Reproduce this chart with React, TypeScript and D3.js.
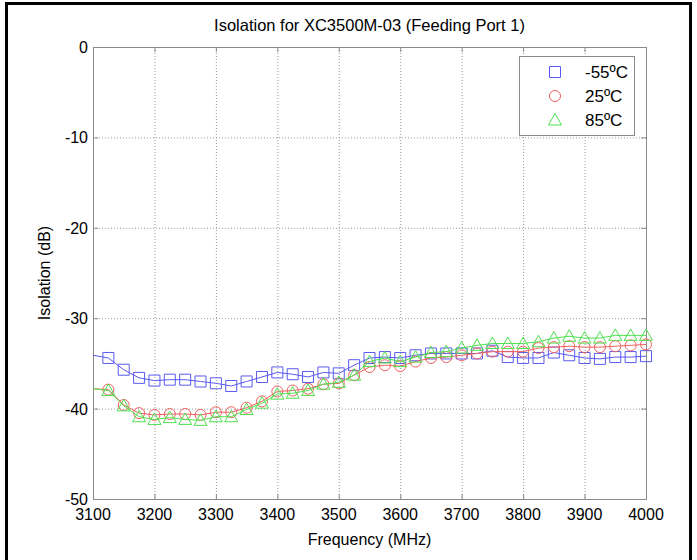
import React, { useRef, useEffect } from "react";
import * as d3 from "d3";

// frequency points (MHz) where markers are drawn
const freqs = d3.range(3125, 4001, 25);

// isolation in dB, one value per marker
const minus55 = [
  -34.4, -35.7, -36.6, -36.9, -36.8, -36.8, -37.0, -37.2, -37.5, -37.0, -36.5, -36.0,
  -36.2, -36.5, -36.0, -36.1, -35.2, -34.4, -34.3, -34.4, -34.1, -33.9, -33.9, -33.9,
  -33.9, -33.6, -34.3, -34.4, -34.4, -33.8, -34.1, -34.4, -34.5, -34.3, -34.3, -34.2,
];
const plus25 = [
  -37.9, -39.6, -40.5, -40.7, -40.6, -40.6, -40.7, -40.4, -40.4, -39.9, -39.2, -38.1,
  -38.0, -37.8, -37.3, -37.2, -36.3, -35.4, -35.2, -35.3, -34.8, -34.4, -34.3, -34.1,
  -33.9, -33.7, -33.7, -33.7, -33.3, -33.2, -33.1, -33.2, -33.2, -33.1, -33.0, -32.9,
];
const plus85 = [
  -38.0, -39.7, -40.9, -41.2, -41.0, -41.2, -41.3, -40.9, -40.9, -40.1, -39.4, -38.4,
  -38.3, -38.0, -37.3, -37.1, -36.3, -34.8, -34.4, -34.8, -34.3, -33.8, -33.7, -33.3,
  -33.0, -32.8, -32.8, -32.8, -32.6, -32.2, -32.0, -32.2, -32.2, -31.9, -31.9, -31.9,
];
// trace values at the band start (line only, no marker)
const startValues = [-34.1, -37.8, -37.8];

const seriesNames = ["-55ºC", "25ºC", "85ºC"];
const seriesColors = ["#5a5af0", "#f06060", "#4fe04f"];
const seriesShapes = ["square", "circle", "triangle"];

const xTicks = d3.range(3100, 4001, 100);
const yTicks = d3.range(-50, 1, 10);

const Chart: React.FC = () => {
  const ref = useRef<SVGSVGElement | null>(null);

  useEffect(() => {
    if (!ref.current) return;
    const svg = d3.select(ref.current);
    svg.selectAll("*").remove();

    const width = 697;
    const height = 560;
    const left = 93;
    const right = 646;
    const top = 47;
    const bottom = 499;
    const font = "Liberation Sans, Arial, sans-serif";
    const fs = 16;

    svg.append("rect").attr("width", width).attr("height", height).attr("fill", "#fff");

    // outer frame
    svg
      .append("path")
      .attr("d", `M6.5,${height + 5} V3.5 H690.5 V${height + 5}`)
      .attr("fill", "none")
      .attr("stroke", "#000")
      .attr("stroke-width", 3);

    const x = d3.scaleLinear().domain([3100, 4000]).range([left, right]);
    const y = d3.scaleLinear().domain([-50, 0]).range([bottom, top]);

    // grid
    const grid = svg.append("g").attr("stroke", "#9a9a9a").attr("stroke-dasharray", "1,2");
    grid
      .selectAll("line.v")
      .data(xTicks.slice(1, -1))
      .join("line")
      .attr("x1", (d) => x(d) + 0.5)
      .attr("x2", (d) => x(d) + 0.5)
      .attr("y1", top)
      .attr("y2", bottom);
    grid
      .selectAll("line.h")
      .data(yTicks.slice(1, -1))
      .join("line")
      .attr("x1", left)
      .attr("x2", right)
      .attr("y1", (d) => y(d) + 0.5)
      .attr("y2", (d) => y(d) + 0.5);

    // axes box with inward ticks
    const axisColor = "#8a8a8a";
    svg
      .append("rect")
      .attr("x", left + 0.5)
      .attr("y", top + 0.5)
      .attr("width", right - left)
      .attr("height", bottom - top)
      .attr("fill", "none")
      .attr("stroke", axisColor);

    const tickG = svg.append("g").attr("stroke", axisColor);
    xTicks.forEach((t) => {
      tickG.append("line").attr("x1", x(t) + 0.5).attr("x2", x(t) + 0.5).attr("y1", bottom).attr("y2", bottom - 5);
      tickG.append("line").attr("x1", x(t) + 0.5).attr("x2", x(t) + 0.5).attr("y1", top).attr("y2", top + 5);
    });
    yTicks.forEach((t) => {
      tickG.append("line").attr("x1", left).attr("x2", left + 5).attr("y1", y(t) + 0.5).attr("y2", y(t) + 0.5);
      tickG.append("line").attr("x1", right).attr("x2", right - 5).attr("y1", y(t) + 0.5).attr("y2", y(t) + 0.5);
    });

    // tick labels
    svg
      .append("g")
      .attr("font-family", font)
      .attr("font-size", fs)
      .attr("text-anchor", "middle")
      .selectAll("text")
      .data(xTicks)
      .join("text")
      .attr("x", (d) => x(d))
      .attr("y", bottom + 21)
      .text((d) => d);
    svg
      .append("g")
      .attr("font-family", font)
      .attr("font-size", fs)
      .attr("text-anchor", "end")
      .selectAll("text")
      .data(yTicks)
      .join("text")
      .attr("x", left - 5)
      .attr("y", (d) => y(d) + 6)
      .text((d) => d);

    // titles
    svg
      .append("text")
      .attr("x", (left + right) / 2)
      .attr("y", 31)
      .attr("text-anchor", "middle")
      .attr("font-family", font)
      .attr("font-size", 16.5)
      .text("Isolation for XC3500M-03 (Feeding Port 1)");
    svg
      .append("text")
      .attr("x", (left + right) / 2)
      .attr("y", 545)
      .attr("text-anchor", "middle")
      .attr("font-family", font)
      .attr("font-size", fs)
      .text("Frequency (MHz)");
    svg
      .append("text")
      .attr("transform", `translate(50,${(top + bottom) / 2}) rotate(-90)`)
      .attr("text-anchor", "middle")
      .attr("font-family", font)
      .attr("font-size", fs)
      .text("Isolation (dB)");

    const symbolPath = (shape: string, cx: number, cy: number) => {
      if (shape === "square") return `M${cx - 5.5},${cy - 5.5}h11v11h-11Z`;
      if (shape === "triangle") return `M${cx},${cy - 6.5}L${cx + 6.5},${cy + 5}L${cx - 6.5},${cy + 5}Z`;
      return `M${cx - 5.5},${cy}a5.5,5.5 0 1,0 11,0a5.5,5.5 0 1,0 -11,0`;
    };

    const allSeries = [minus55, plus25, plus85];
    const line = d3
      .line<[number, number]>()
      .x((d) => x(d[0]))
      .y((d) => y(d[1]));

    allSeries.forEach((vals, i) => {
      const pts: [number, number][] = [[3100, startValues[i]], ...freqs.map((f, j) => [f, vals[j]] as [number, number])];
      svg
        .append("path")
        .attr("d", line(pts))
        .attr("fill", "none")
        .attr("stroke", seriesColors[i])
        .attr("stroke-width", 1);
      svg
        .append("g")
        .selectAll("path")
        .data(freqs.map((f, j) => [f, vals[j]]))
        .join("path")
        .attr("d", (d) => symbolPath(seriesShapes[i], x(d[0]), y(d[1])))
        .attr("fill", "none")
        .attr("stroke", seriesColors[i])
        .attr("stroke-width", 1);
    });

    // legend
    const lg = svg.append("g");
    lg.append("rect")
      .attr("x", 519.5)
      .attr("y", 56.5)
      .attr("width", 115)
      .attr("height", 79)
      .attr("fill", "#fff")
      .attr("stroke", axisColor);
    seriesNames.forEach((name, i) => {
      const cy = 72 + i * 24;
      lg.append("path")
        .attr("d", symbolPath(seriesShapes[i], 555, cy))
        .attr("fill", "none")
        .attr("stroke", seriesColors[i]);
      lg.append("text")
        .attr("x", 585)
        .attr("y", cy + 6)
        .attr("font-family", font)
        .attr("font-size", 17)
        .text(name);
    });
  }, []);

  return <svg ref={ref} width={697} height={560} style={{ position: "absolute", left: 0, top: 0 }} />;
};

export default function App() {
  return <Chart />;
}
